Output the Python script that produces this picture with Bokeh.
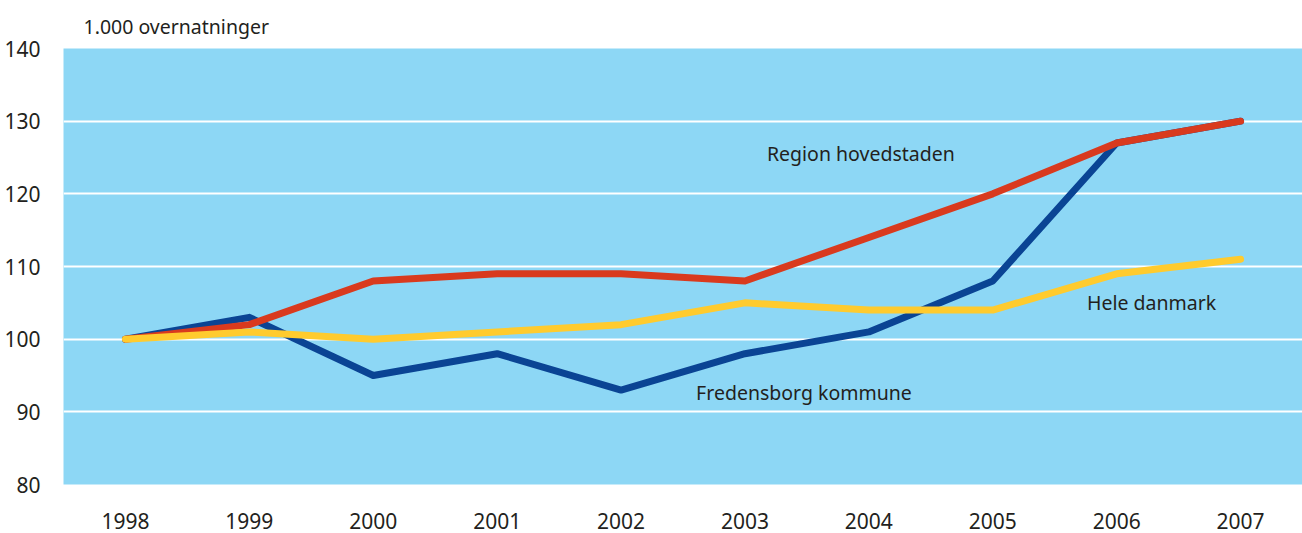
from bokeh.plotting import figure
from bokeh.models import FactorRange, Range1d, FixedTicker, ColumnDataSource
from bokeh.core.properties import value
from bokeh.embed import file_html
from bokeh.resources import INLINE

years = ["1998", "1999", "2000", "2001", "2002", "2003", "2004", "2005", "2006", "2007"]
fredensborg = [100, 103, 95, 98, 93, 98, 101, 108, 127, 130]
region = [100, 102, 108, 109, 109, 108, 114, 120, 127, 130]
danmark = [100, 101, 100, 101, 102, 105, 104, 104, 109, 111]
y_ticks = [80, 90, 100, 110, 120, 130, 140]

label_texts = ["Region hovedstaden", "Fredensborg kommune", "Hele danmark"]
label_x = ["2004", "2003", "2006"]
label_xoff = [-8, 59, 35]
label_y = [125.5, 92.7, 105.1]

FONT = "Noto Sans"
TXT = "#231F20"

p = figure(x_range=FactorRange(*years, range_padding=0), y_range=Range1d(80, 140),
           width=1302, height=533, output_backend="svg", toolbar_location=None,
           min_border_left=63, min_border_right=0, min_border_top=48, min_border_bottom=49)

p.background_fill_color = "#8DD7F5"
p.border_fill_color = "white"
p.outline_line_color = None

p.title.text = "1.000 overnatninger"
p.title.align = "left"
p.title.offset = 20
p.title.text_font = FONT
p.title.text_font_style = "normal"
p.title.text_font_size = "19.5px"
p.title.text_color = TXT
p.title.standoff = 17

p.yaxis.ticker = FixedTicker(ticks=y_ticks)
p.xgrid.grid_line_color = None
p.ygrid.grid_line_color = "white"
p.ygrid.grid_line_width = 2

for ax in (p.xaxis, p.yaxis):
    ax.axis_line_color = None
    ax.major_tick_line_color = None
    ax.minor_tick_line_color = None
    ax.major_label_text_font = FONT
    ax.major_label_text_font_size = "21px"
    ax.major_label_text_color = TXT
p.yaxis.major_label_standoff = 17
p.xaxis.major_label_standoff = 22

src = ColumnDataSource(dict(x=years, f=fredensborg, r=region, d=danmark))
p.line("x", "f", source=src, line_color="#0A4494", line_width=7, line_cap="round", line_join="round")
p.line("x", "r", source=src, line_color="#D93A1E", line_width=7, line_cap="round", line_join="round")
p.line("x", "d", source=src, line_color="#FFCB2E", line_width=7, line_cap="round", line_join="round")

lsrc = ColumnDataSource(dict(x=label_x, y=label_y, t=label_texts, xo=label_xoff))
p.text("x", "y", text="t", x_offset="xo", source=lsrc, text_font=value(FONT), text_font_size="19.5px",
       text_color=TXT, text_align="center", text_baseline="middle")

open("out.html", "w").write(file_html(p, INLINE))
